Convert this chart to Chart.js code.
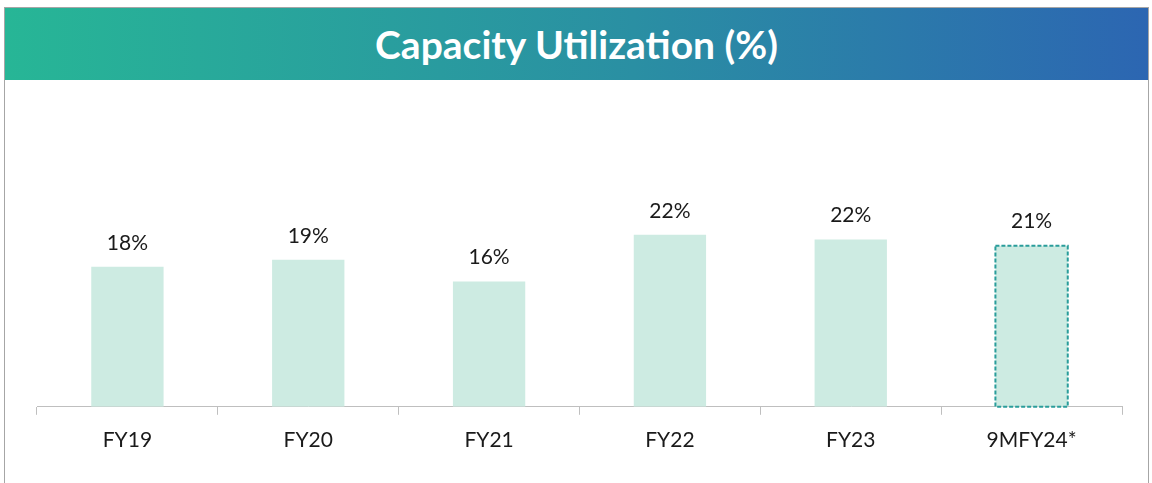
<!DOCTYPE html>
<html>
<head>
<meta charset="utf-8">
<script src="https://cdn.jsdelivr.net/npm/chart.js@4.4.1/dist/chart.umd.min.js"></script>
<style>
  html, body { margin: 0; padding: 0; background: #fff; }
  body { width: 1152px; height: 483px; position: relative; overflow: hidden; font-family: Lato, "Open Sans", sans-serif; }
  #frame { position: absolute; left: 4px; top: 7px; width: 1143px; height: 480px;
           border-left: 1.5px solid #a6a6a6; border-right: 1.5px solid #a6a6a6; border-top: 1px solid #a6a6a6; }
  #header { height: 72px; background: linear-gradient(to right, #27b696, #2a8fa3 55%, #2c66b2);
            color: #fff; font-weight: bold; font-size: 39px; text-align: center; line-height: 72px; }
  #wrap { position: absolute; left: 0; top: 72px; width: 1143px; height: 404px; }
</style>
</head>
<body>
<div id="frame">
  <div id="header">Capacity Utilization (%)</div>
  <div id="wrap"><canvas id="c"></canvas></div>
</div>
<script>
const categories = ["FY19", "FY20", "FY21", "FY22", "FY23", "9MFY24*"];
const utilization = [18.0, 18.9, 16.1, 22.1, 21.5, 20.7];
const valueLabels = ["18%", "19%", "16%", "22%", "22%", "21%"];

const labelPlugin = {
  id: "valueLabels",
  afterDatasetsDraw(chart) {
    const ctx = chart.ctx;
    const meta = chart.getDatasetMeta(0);
    ctx.save();
    const last = meta.data[meta.data.length - 1];
    const half = last.width / 2;
    ctx.strokeStyle = "#2a9d9b";
    ctx.lineWidth = 2;
    ctx.setLineDash([4, 2]);
    ctx.strokeRect(last.x - half, last.y, last.width, last.base - last.y);
    ctx.setLineDash([]);
    ctx.fillStyle = "#1a1a1a";
    ctx.font = "21px Lato, 'Open Sans', sans-serif";
    ctx.textAlign = "center";
    ctx.textBaseline = "middle";
    meta.data.forEach((bar, i) => {
      ctx.fillText(valueLabels[i], bar.x, bar.y - 24);
    });
    ctx.restore();
  }
};

new Chart(document.getElementById("c"), {
  type: "bar",
  data: {
    labels: categories,
    datasets: [{
      data: utilization,
      backgroundColor: "#cdebe2",
      borderWidth: 0,
      categoryPercentage: 0.8,
      barPercentage: 0.5
    }]
  },
  options: {
    responsive: true,
    maintainAspectRatio: false,
    animation: false,
    layout: { padding: { left: 32, right: 26, top: 0, bottom: 18 } },
    plugins: { legend: { display: false }, tooltip: { enabled: false }, title: { display: false } },
    scales: {
      x: {
        grid: { display: true, drawOnChartArea: false, tickLength: 8, color: "#bfbfbf", offset: true },
        border: { display: true, color: "#bfbfbf", width: 1 },
        ticks: { color: "#1a1a1a", font: { family: "Lato, 'Open Sans', sans-serif", size: 21 }, padding: 13 }
      },
      y: {
        display: false,
        min: 0,
        max: 42
      }
    }
  },
  plugins: [labelPlugin]
});
</script>
</body>
</html>
